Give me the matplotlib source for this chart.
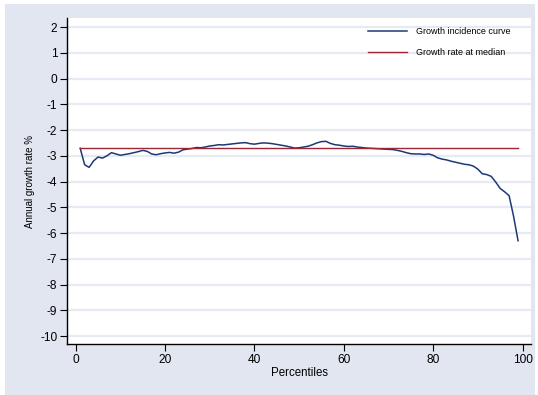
"""Growth incidence curve vs. growth rate at median."""

import matplotlib
matplotlib.use("Agg")
import matplotlib.pyplot as plt
from matplotlib.patches import Rectangle

percentiles = list(range(1, 100))
growth = [
    -2.71, -3.35, -3.45, -3.20, -3.05, -3.09, -3.00, -2.88, -2.93, -2.98,
    -2.95, -2.92, -2.88, -2.84, -2.79, -2.83, -2.93, -2.96, -2.92, -2.89,
    -2.87, -2.90, -2.86, -2.77, -2.74, -2.72, -2.68, -2.69, -2.66, -2.62,
    -2.60, -2.57, -2.58, -2.56, -2.54, -2.52, -2.50, -2.49, -2.53, -2.55,
    -2.52, -2.50, -2.51, -2.53, -2.56, -2.59, -2.62, -2.66, -2.70, -2.69,
    -2.66, -2.63, -2.57, -2.50, -2.45, -2.44, -2.52, -2.57, -2.59, -2.62,
    -2.64, -2.63, -2.66, -2.68, -2.70, -2.71, -2.72, -2.73, -2.74, -2.75,
    -2.76, -2.79, -2.83, -2.88, -2.92, -2.93, -2.93, -2.95, -2.93, -2.98,
    -3.08, -3.13, -3.16, -3.21, -3.25, -3.29, -3.33, -3.35, -3.40, -3.52,
    -3.70, -3.73, -3.80, -4.02, -4.27, -4.40, -4.55, -5.35, -6.30,
]
median_rate = -2.70
x_ticks = [0, 20, 40, 60, 80, 100]
y_ticks = list(range(-10, 3))

plt.rcParams["font.family"] = ["Liberation Sans", "DejaVu Sans"]
plt.rcParams["axes.unicode_minus"] = False

W, H = 538, 395
fig = plt.figure(figsize=(W / 100, H / 100), dpi=100, facecolor="white")
fig.patches.append(Rectangle((5 / W, 0), 530 / W, 391 / H, transform=fig.transFigure,
                             facecolor="#e1e6f0", edgecolor="none", zorder=-10))

ax = fig.add_axes([67 / W, (H - 344) / H, (531 - 67) / W, (344 - 18) / H])
ax.set_facecolor("white")

ax.plot(percentiles, growth, color="#1c3a75", lw=1.1, label="Growth incidence curve")
ax.plot([percentiles[0], percentiles[-1]], [median_rate, median_rate],
        color="#9e2636", lw=1.0, label="Growth rate at median")

ax.set_xlim(-1.95, 101.9)
ax.set_ylim(-10.31, 2.35)
ax.set_xticks(x_ticks)
ax.set_yticks(y_ticks)
ax.grid(True, axis="y", color="#e6eaf3", lw=1.6)
ax.set_axisbelow(True)

for side in ("top", "right"):
    ax.spines[side].set_visible(False)
for side in ("left", "bottom"):
    ax.spines[side].set_linewidth(1.0)
ax.tick_params(direction="out", length=5, width=0.8, labelsize=8.6, pad=2)

ax.set_xlabel("Percentiles", fontsize=8.3, labelpad=1)
ax.set_ylabel("Annual growth rate %", fontsize=7, labelpad=4)

ax.legend(loc="upper left", bbox_to_anchor=(368 / W, (H - 27) / H),
          bbox_transform=fig.transFigure, frameon=False, fontsize=6.5,
          handlelength=4.3, handletextpad=1.0, labelspacing=1.35,
          borderpad=0, borderaxespad=0)

fig.savefig("out.png", dpi=100, facecolor=fig.get_facecolor())
